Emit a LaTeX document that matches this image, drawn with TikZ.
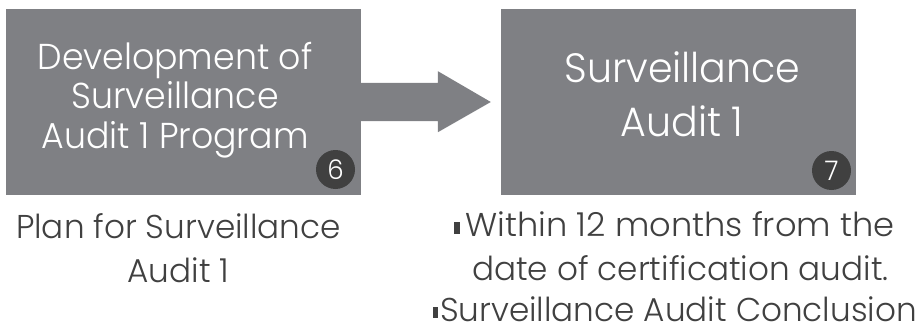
\documentclass[tikz,border=0pt]{standalone}
\usepackage{fontspec}
\setmainfont{Poppins}[UprightFont={* Light},FakeStretch=0.965]
\newfontfamily\subfont{Poppins}[UprightFont={* Light},FakeStretch=0.99]
\newfontfamily\subfontw{Poppins}[UprightFont={* Light},FakeStretch=1.02]
\usetikzlibrary{calc}
\definecolor{boxgray}{RGB}{127,128,132}
\definecolor{darkc}{RGB}{64,64,64}
\definecolor{txtgray}{RGB}{64,64,64}
\begin{document}
\begin{tikzpicture}[x=1pt,y=-1pt,
  box/.style={fill=boxgray,draw=none,minimum width=355pt,minimum height=186pt,inner sep=0pt},
  boxtxt/.style={text=white,anchor=base,inner sep=0pt},
  num/.style={circle,fill=darkc,text=white,minimum size=39pt,inner sep=0pt,font=\fontsize{27}{27}\selectfont},
  subtxt/.style={text=txtgray,anchor=base,inner sep=0pt,font=\subfont\fontsize{33}{40}\selectfont},
  bul/.style={fill=txtgray,minimum width=5.7pt,minimum height=11.5pt,inner sep=0pt}]
\useasboundingbox (0,0) rectangle (919,329);
\node[box] (b1) at (183.5,102) {};
\node[box] (b2) at (678.5,102) {};
\fill[boxgray] ($(b1.east)+(-1,-19.2)$) -- ($(b1.east)+(76.7,-19.2)$) -- ($(b1.east)+(76.7,-30.8)$)
  -- ($(b2.west)+(-10,0)$) -- ($(b1.east)+(76.7,30.2)$) -- ($(b1.east)+(76.7,19.2)$)
  -- ($(b1.east)+(-1,19.2)$) -- cycle;
\node[boxtxt,font=\fontsize{36}{39}\selectfont] (t1a) at (175,70) {Development of};
\node[boxtxt,font=\fontsize{36}{39}\selectfont] (t1b) at (175,109) {Surveillance};
\node[boxtxt,font=\fontsize{36}{39}\selectfont] (t1c) at (175,148) {Audit 1 Program};
\node[boxtxt,font=\fontsize{41}{54}\selectfont] (t2a) at (682.5,82.5) {Surveillance};
\node[boxtxt,font=\fontsize{41}{54}\selectfont] (t2b) at (682,136.7) {Audit 1};
\node[num] (n6) at (335.5,169.5) {6};
\node[num,font=\rmfamily\fontsize{27}{27}\selectfont] (n7) at (831.5,170.5) {7};
\node[subtxt] (s1a) at (178.5,238) {Plan for Surveillance};
\node[subtxt] (s1b) at (178.5,282) {Audit 1};
\node[bul] (u1) at (457,228) {};
\node[subtxt,font=\subfontw\fontsize{33}{40}\selectfont] (s2a) at (680,236.5) {Within 12 months from the};
\node[subtxt] (s2b) at (680.5,280) {date of certification audit.};
\node[bul] (u2) at (435.5,312.5) {};
\node[subtxt] (s2c) at (678.5,321.5) {Surveillance Audit Conclusion};
\end{tikzpicture}
\end{document}
